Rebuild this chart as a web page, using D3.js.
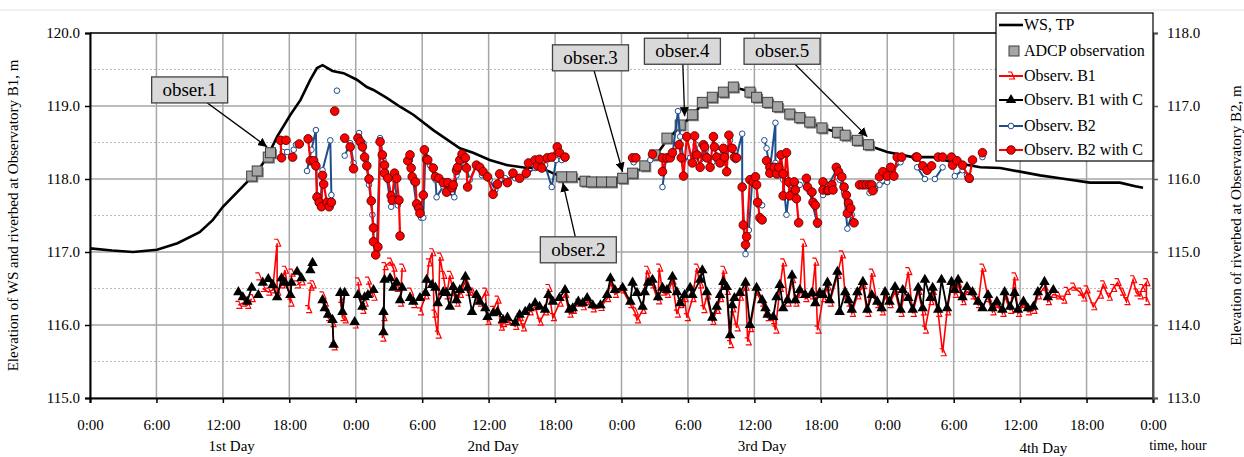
<!DOCTYPE html>
<html>
<head>
<meta charset="utf-8">
<script src="https://d3js.org/d3.v7.min.js"></script>
<style>
body { margin: 0; background: #fff; }
svg text { font-family: "Liberation Serif", "Times New Roman", serif; fill: #000; }
</style>
</head>
<body>
<div id="chart"></div>
<script>
// time in hours from 0:00 of 1st day, elevation in m (left axis)
var hourTicks = [0, 6, 12, 18, 24, 30, 36, 42, 48, 54, 60, 66, 72, 78, 84, 90, 96];
var hourLabels = ["0:00", "6:00", "12:00", "18:00", "0:00", "6:00", "12:00", "18:00", "0:00",
    "6:00", "12:00", "18:00", "0:00", "6:00", "12:00", "18:00", "0:00"];
var leftTicks = [115, 116, 117, 118, 119, 120];
var rightTicks = [113, 114, 115, 116, 117, 118];
var minorTicks = [115.5, 116.5, 117.5, 118.5, 119.5];
var dayNames = ["1st Day", "2nd Day", "3rd Day", "4th Day"];
var dayHours = [12.8, 36.4, 60.7, 86.1];

var wsTP = [[0,117.05],[2,117.02],[3.9,117.0],[6.05,117.03],[7.9,117.12],[9.9,117.27],[11.1,117.44],
    [12.0,117.62],[14.2,117.96],[15.2,118.12],[16.0,118.3],[16.9,118.58],[18.1,118.88],[19.0,119.08],
    [19.9,119.36],[20.5,119.52],[21.0,119.56],[21.9,119.48],[22.9,119.45],[24.1,119.36],[25.0,119.26],
    [25.6,119.22],[26.8,119.11],[28.0,118.99],[29.2,118.88],[31.0,118.67],[33.4,118.42],[34.6,118.36],
    [36.1,118.26],[37.7,118.19],[39.5,118.15],[40.6,118.16],[41.8,118.08],[42.6,118.03],[44.7,117.99],
    [46.2,117.97],[48.1,118.01],[49.0,118.07],[50.1,118.17],[51.0,118.30],[52.1,118.53],[53.3,118.72],
    [54.4,118.87],[55.3,119.03],[56.2,119.12],[57.2,119.19],[58.1,119.26],[59.6,119.20],[61.2,119.06],
    [62.1,118.99],[63.2,118.89],[65.0,118.78],[66.1,118.70],[67.5,118.64],[69.3,118.53],[70.3,118.46],
    [72.0,118.37],[74.3,118.30],[76.1,118.30],[77.9,118.23],[80.4,118.16],[82.2,118.15],[85.8,118.05],
    [87.6,118.01],[90.3,117.95],[93.0,117.95],[94.4,117.90],[95.1,117.88]];

var adcp = [[14.6,118.04],[15.1,118.11],[16.1,118.30],[16.3,118.36],[42.6,118.03],[43.5,118.03],
    [44.7,117.97],[45.3,117.96],[46.2,117.96],[47.1,117.96],[48.1,118.01],[49.0,118.08],[50.1,118.18],
    [51.0,118.33],[52.1,118.56],[53.3,118.74],[54.4,118.88],[55.3,119.05],[56.2,119.12],[57.2,119.19],
    [58.1,119.26],[59.6,119.19],[60.2,119.12],[61.2,119.05],[62.1,118.99],[63.2,118.89],[64.1,118.84],
    [65.0,118.78],[66.1,118.70],[67.5,118.64],[68.2,118.60],[69.3,118.53],[70.3,118.47]];

// null = no reading (gap in line)
var obsB1 = [[13.4,116.27],[13.8,116.30],[14.2,116.27],[14.6,116.36],[14.9,null],[15.2,116.66],[15.4,null],
    [15.6,116.50],[16.1,116.45],[16.5,116.48],[16.9,117.12],[16.9,116.45],[17.3,116.55],[17.6,116.75],
    [18.1,116.30],[18.2,116.71],[18.5,null],[18.7,116.55],[19.1,116.59],[19.5,null],[19.7,116.21],
    [19.9,116.52],[20.1,116.55],[20.5,null],[21.0,116.40],[21.2,116.30],[21.5,116.10],[21.9,116.02],
    [22.0,115.70],[22.3,null],[22.6,116.35],[22.8,116.10],[23.0,116.07],[23.5,null],[23.9,116.00],[24.0,null],
    [24.2,116.59],[24.6,116.20],[24.8,116.30],[24.9,null],[25.1,116.60],[25.6,116.38],[26.0,null],
    [26.4,115.82],[26.5,116.10],[26.6,116.80],[27.1,116.86],[27.4,116.78],[27.7,116.50],[27.9,null],
    [28.0,116.30],[28.2,116.78],[28.5,null],[28.9,116.45],[29.2,116.28],[29.5,null],[29.8,116.18],
    [30.3,116.40],[30.6,116.85],[30.9,116.99],[31.1,116.15],[31.4,115.86],[31.6,116.93],[31.9,116.68],
    [32.2,116.40],[32.5,116.68],[32.8,116.45],[33.1,116.30],[33.4,116.42],[33.9,116.60],[34.1,116.45],
    [34.5,116.45],[34.9,116.35],[35.2,116.30],[35.7,116.45],[35.9,116.05],[36.4,116.20],[36.8,116.34],
    [37.1,115.97],[37.3,116.02],[37.7,116.05],[38.4,115.98],[38.8,116.10],[39.1,115.96],[39.7,116.18],
    [40.2,116.25],[40.6,116.04],[41.1,116.18],[41.4,116.50],[41.8,116.10],[42.4,116.30],[42.9,116.42],
    [43.3,116.15],[43.6,116.20],[44.1,116.30],[44.5,116.25],[44.9,116.32],[45.4,116.22],[46.1,116.24],
    [46.7,116.36],[47.0,116.58],[47.4,116.42],[48.1,116.48],[48.8,116.28],[49.2,116.18],[49.4,116.07],
    [49.9,116.20],[50.3,116.75],[50.8,116.55],[51.3,116.33],[51.4,116.78],[51.7,116.45],[52.1,116.42],
    [52.6,116.60],[53.0,116.15],[53.3,116.28],[53.7,116.36],[53.9,116.10],[54.4,116.36],[54.8,116.78],
    [55.1,116.55],[55.4,116.21],[55.7,116.40],[56.2,116.05],[56.6,116.20],[56.9,116.36],[57.2,116.75],
    [57.5,116.46],[57.8,115.73],[58.0,116.22],[58.4,115.96],[58.7,116.38],[59.2,116.52],[59.4,115.77],
    [59.6,115.95],[60.2,116.45],[60.7,116.30],[61.0,116.18],[61.2,116.10],[61.7,116.06],[61.9,115.93],
    [62.3,116.50],[62.6,116.85],[63.0,116.30],[63.4,116.62],[63.7,116.30],[64.1,116.42],[64.4,117.12],
    [64.6,116.36],[65.2,116.40],[65.5,116.86],[65.7,115.93],[66.2,116.36],[66.6,116.52],[66.8,116.30],
    [67.5,116.68],[67.9,116.96],[68.2,116.40],[68.5,116.30],[68.8,116.16],[69.3,116.40],[69.8,116.54],
    [70.2,116.16],[70.6,116.71],[71.1,116.28],[71.5,116.18],[71.8,116.40],[72.2,116.28],[72.7,116.46],
    [73.2,116.16],[73.9,116.73],[74.3,116.16],[74.8,116.46],[75.2,116.18],[75.4,115.93],[75.9,116.32],
    [76.1,116.46],[76.6,116.16],[77.0,115.62],[77.4,116.18],[77.8,116.54],[78.1,116.42],[78.4,116.56],
    [78.8,116.32],[79.2,116.46],[79.7,116.40],[80.2,116.28],[80.6,116.78],[81.1,116.36],[81.5,116.18],
    [81.9,116.28],[82.4,116.16],[82.6,116.40],[83.1,116.20],[83.5,116.66],[83.8,116.16],[84.3,116.28],
    [84.7,116.18],[85.2,116.20],[85.6,116.40],[86.2,116.52],[86.5,116.32],[87.0,116.42],[87.4,116.40],
    [87.9,116.34],[88.2,116.46],[88.8,116.52],[89.4,116.45],[89.7,116.37],[90.0,116.48],[90.6,116.25],
    [91.2,116.41],[91.5,116.55],[92.0,116.38],[92.4,116.50],[92.8,116.58],[93.2,116.45],[93.6,116.32],
    [94.2,116.62],[94.5,116.44],[94.8,116.40],[95.0,116.50],[95.4,116.58],[95.4,116.32]];

var obsB1C = [[13.4,116.45],[13.8,116.38],[14.2,116.32],[14.6,116.51],[14.9,null],[15.2,116.41],[15.4,null],
    [15.6,116.58],[16.1,116.63],[16.5,116.55],[16.9,116.38],[17.3,116.64],[17.6,116.58],[18.1,116.41],
    [18.2,116.58],[18.5,null],[18.7,116.73],[19.1,116.64],[19.5,null],[19.9,116.75],[20.1,116.85],[20.5,null],
    [21.0,116.34],[21.2,116.23],[21.5,116.14],[21.9,116.07],[22.0,115.73],[22.3,null],[22.6,116.44],
    [22.8,116.18],[23.0,116.44],[23.5,null],[23.9,116.04],[24.0,null],[24.2,116.41],[24.6,116.25],
    [24.8,116.38],[24.9,null],[25.1,116.41],[25.6,116.48],[26.0,null],[26.5,116.18],[26.5,115.90],
    [26.6,116.62],[27.1,116.64],[27.4,116.51],[27.7,116.58],[27.9,null],[28.0,116.34],[28.2,116.51],
    [28.5,null],[28.9,116.37],[29.2,116.32],[29.5,null],[29.8,116.37],[30.3,116.44],[30.4,116.62],
    [30.9,116.55],[31.2,116.51],[31.4,116.30],[31.9,116.45],[32.2,116.44],[32.5,116.25],[32.8,116.52],
    [33.1,116.34],[33.4,116.48],[33.9,116.66],[34.1,116.51],[34.5,116.18],[34.9,116.41],[35.2,116.32],
    [35.7,116.23],[35.9,116.11],[36.4,116.16],[36.8,116.18],[37.3,116.07],[37.7,116.10],[38.4,116.03],
    [38.8,116.14],[39.3,116.18],[39.7,116.23],[40.2,116.30],[40.6,116.25],[41.1,116.21],[41.4,116.41],
    [41.8,116.32],[42.4,116.37],[42.9,116.48],[43.3,116.21],[43.6,116.23],[44.1,116.32],[44.5,116.30],
    [44.9,116.37],[45.4,116.27],[46.1,116.27],[46.7,116.41],[47.0,116.64],[47.4,116.48],[48.1,116.51],
    [48.8,116.32],[49.0,116.58],[49.4,116.44],[49.9,116.25],[50.1,116.45],[50.4,116.58],[50.8,116.62],
    [51.3,116.38],[51.7,116.51],[52.1,116.48],[52.6,116.66],[53.0,116.45],[53.3,116.30],[53.7,116.41],
    [54.2,116.51],[54.4,116.41],[55.1,116.62],[55.3,116.75],[55.7,116.45],[56.2,116.10],[56.6,116.25],
    [56.9,116.41],[57.2,116.59],[57.5,116.52],[57.8,115.86],[58.0,116.27],[58.2,116.37],[58.7,116.44],
    [59.2,116.58],[59.6,116.00],[60.2,116.51],[60.7,116.34],[61.0,116.23],[61.2,116.14],[61.7,116.11],
    [62.0,116.38],[62.3,116.55],[62.6,116.23],[63.0,116.34],[63.4,116.68],[63.7,116.34],[64.1,116.48],
    [64.6,116.41],[65.2,116.44],[65.5,116.30],[65.9,116.44],[66.2,116.41],[66.6,116.58],[66.8,116.34],
    [67.5,116.73],[67.7,116.18],[68.2,116.45],[68.5,116.34],[68.8,116.21],[69.3,116.45],[69.8,116.59],
    [70.2,116.21],[70.6,116.41],[71.1,116.32],[71.5,116.23],[71.8,116.45],[72.2,116.32],[72.7,116.52],
    [73.2,116.21],[73.4,116.48],[73.9,116.37],[74.3,116.21],[74.8,116.51],[75.2,116.23],[75.4,116.62],
    [75.9,116.37],[76.1,116.51],[76.6,116.21],[76.9,116.62],[77.4,116.23],[77.8,116.59],[78.1,116.48],
    [78.4,116.62],[78.8,116.38],[79.2,116.52],[79.7,116.45],[80.2,116.32],[80.6,116.23],[81.1,116.41],
    [81.5,116.23],[81.9,116.32],[82.4,116.21],[82.6,116.45],[83.1,116.25],[83.5,116.44],[83.8,116.21],
    [84.3,116.32],[84.7,116.23],[85.2,116.25],[85.6,116.45],[86.2,116.59],[86.5,116.38],[87.0,116.48]];

var obsB2 = [[17.4,118.37],[17.8,118.37],[18.0,null],[18.4,118.40],[18.6,118.47],[19.0,null],[19.6,118.11],
    [20.0,118.40],[20.4,118.67],[20.5,117.78],[20.8,117.64],[21.0,118.12],[21.7,118.53],[21.8,117.78],
    [22.0,null],[22.3,119.21],[22.6,null],[23.0,118.32],[23.5,118.49],[23.8,118.22],[24.0,null],[24.3,118.63],
    [24.7,118.49],[24.9,118.26],[25.2,117.92],[25.5,117.51],[25.6,117.16],[25.9,117.03],[26.2,118.56],
    [26.5,118.26],[26.7,118.10],[27.2,117.62],[27.5,117.99],[27.8,117.64],[28.3,null],[28.9,118.26],
    [29.2,117.96],[29.5,117.62],[29.9,117.47],[30.1,117.47],[30.3,118.40],[30.7,118.19],[31.2,117.99],
    [31.3,117.75],[31.9,117.90],[32.3,117.82],[32.9,117.75],[33.1,118.05],[33.6,118.26],[33.9,118.19],
    [34.3,117.99],[34.9,118.19],[35.4,118.05],[36.1,117.99],[36.6,117.85],[37.5,118.01],[38.4,118.01],
    [39.3,118.05],[40.2,118.15],[41.1,118.19],[41.7,117.89],[42.1,118.26],[42.6,118.26],[45.0,null],
    [49.1,118.23],[49.8,null],[50.6,118.26],[51.2,null],[51.7,117.89],[52.0,118.26],[52.6,118.33],
    [53.1,118.93],[53.3,118.58],[53.6,118.26],[54.2,118.29],[54.7,118.47],[55.1,118.26],[55.6,118.40],
    [56.2,118.23],[56.7,118.37],[57.3,118.23],[57.8,118.53],[58.3,118.26],[58.9,118.62],[58.9,117.89],
    [59.2,116.97],[59.5,117.30],[59.8,117.96],[60.1,118.01],[60.4,117.64],[60.7,117.64],[60.8,null],
    [60.9,118.53],[61.1,118.42],[61.4,118.12],[61.9,118.77],[61.9,118.22],[62.2,118.05],[62.6,117.99],
    [62.9,117.51],[63.2,117.92],[63.7,117.78],[64.1,117.92],[64.4,null],[64.7,117.96],[65.0,117.82],
    [65.7,117.37],[65.9,null],[66.2,117.78],[66.7,117.92],[67.4,118.12],[67.7,117.99],[68.1,117.82],
    [68.4,117.32],[68.8,117.51],[69.5,null],[70.4,117.81],[70.9,117.86],[71.3,117.92],[72.0,117.96],
    [72.5,118.12],[73.2,118.23],[73.9,null],[74.7,118.16],[75.4,118.00],[75.8,null],[76.3,118.00],
    [77.0,118.16],[77.6,null],[78.1,118.04],[78.8,118.12],[79.2,118.05],[79.5,117.99],[80.0,null],[80.6,118.30]];

var obsB2C = [[17.2,118.53],[17.3,118.29],[17.5,null],[17.7,118.53],[18.0,null],[18.3,118.30],[18.6,null],
    [18.9,118.48],[19.3,null],[19.7,118.55],[19.9,118.25],[20.2,118.25],[20.4,118.18],[20.5,117.75],
    [20.7,117.68],[20.9,117.62],[21.0,118.05],[21.1,117.93],[21.4,117.68],[21.6,117.62],[21.8,117.68],
    [22.0,null],[22.1,118.93],[22.5,null],[23.0,118.56],[23.5,118.44],[23.8,118.14],[24.0,null],
    [24.2,118.56],[24.4,118.51],[24.6,118.44],[24.8,118.30],[25.0,118.18],[25.2,118.00],[25.4,117.70],
    [25.6,117.33],[25.6,117.14],[25.8,116.96],[26.0,117.07],[26.2,118.51],[26.4,118.33],[26.6,118.19],
    [26.6,118.08],[26.9,118.01],[27.2,117.77],[27.3,117.71],[27.5,118.08],[27.7,118.01],[27.9,117.71],
    [28.0,117.22],[28.4,null],[28.7,118.25],[28.9,118.33],[29.0,118.15],[29.1,118.03],[29.4,117.96],
    [29.5,117.66],[29.7,117.60],[29.8,117.53],[30.1,117.78],[30.2,118.40],[30.4,118.27],[30.5,118.26],
    [31.0,118.15],[31.2,118.03],[31.5,118.01],[31.9,117.95],[32.2,117.82],[32.3,117.95],[32.7,117.88],
    [32.8,117.92],[33.1,118.12],[33.2,118.16],[33.4,118.26],[33.6,118.34],[33.9,118.29],[34.0,118.15],
    [34.1,117.89],[34.9,118.19],[35.2,118.16],[35.5,118.10],[35.9,118.03],[36.4,117.79],[36.8,117.93],
    [37.0,118.07],[37.7,117.95],[38.2,118.08],[38.8,118.01],[39.4,118.08],[39.6,118.22],[40.2,118.26],
    [40.4,118.18],[40.6,118.27],[40.8,118.15],[41.3,118.29],[41.7,118.30],[42.2,118.44],[42.4,118.36],
    [42.9,118.30],[45.0,null],[49.0,118.29],[49.3,118.29],[50.0,null],[50.8,118.34],[51.2,null],
    [51.7,118.29],[51.7,118.10],[52.1,118.29],[52.4,118.29],[52.6,118.36],[53.2,118.47],[53.4,118.29],
    [53.6,118.04],[53.9,118.58],[54.4,118.22],[54.6,118.59],[54.8,118.33],[55.1,118.16],[55.4,118.47],
    [55.5,118.44],[55.7,118.29],[56.0,118.16],[56.3,118.58],[56.4,118.44],[56.6,118.30],[56.9,118.22],
    [57.2,118.42],[57.3,118.30],[57.5,118.10],[57.7,118.60],[58.0,118.42],[58.2,118.30],[58.4,118.29],
    [58.6,null],[58.9,117.89],[59.0,117.37],[59.2,117.10],[59.3,117.21],[59.6,117.99],[59.9,117.96],
    [60.1,118.03],[60.2,117.92],[60.3,117.68],[60.5,117.47],[60.7,117.44],[60.9,null],[61.1,118.25],
    [61.4,118.16],[61.4,118.08],[61.8,118.16],[62.0,118.07],[62.2,118.16],[62.4,118.33],[62.6,118.07],
    [62.6,117.77],[62.9,118.36],[63.1,117.96],[63.2,117.77],[63.6,117.96],[63.7,117.85],[63.8,117.73],
    [64.0,117.40],[64.4,null],[64.7,118.01],[64.8,117.89],[65.2,117.82],[65.3,117.68],[65.5,117.64],
    [65.7,117.40],[65.9,null],[66.2,117.96],[66.2,117.85],[66.6,117.84],[66.7,117.85],[67.0,117.92],
    [67.1,117.85],[67.4,118.16],[67.6,118.10],[67.9,118.03],[68.1,117.89],[68.3,117.78],[68.4,117.53],
    [68.5,117.67],[68.7,117.60],[69.0,117.40],[69.2,null],[69.5,117.92],[69.8,117.92],[70.1,117.92],
    [70.4,117.92],[70.6,117.92],[70.7,117.84],[71.0,null],[71.3,118.03],[71.6,118.10],[72.0,118.04],
    [72.3,118.16],[72.6,118.04],[72.9,118.30],[73.3,118.30],[74.0,null],[74.6,118.30],[74.7,118.30],
    [75.2,118.18],[75.6,118.12],[76.0,118.18],[76.3,null],[76.6,118.30],[77.0,118.30],[77.4,null],
    [77.8,118.30],[77.9,118.19],[78.3,118.25],[78.8,118.19],[79.4,118.01],[79.7,118.26],[80.1,null],
    [80.6,118.36]];

var obsNames = ["obser.1", "obser.2", "obser.3", "obser.4", "obser.5"];
var obsLabelAt = [[9.0,119.22], [44.1,117.03], [45.2,119.66], [53.5,119.75], [62.5,119.75]];
var obsPointAt = [[16.0,118.44], [42.7,117.95], [48.1,118.10], [53.7,118.86], [70.2,118.58]];

var legendNames = ["WS, TP", "ADCP observation", "Observ. B1", "Observ. B1 with C", "Observ. B2", "Observ. B2 with C"];

var margin = {top: 33, right: 91, bottom: 59, left: 90};
var width = 1244 - margin.left - margin.right,
    height = 457 - margin.top - margin.bottom;

var svg = d3.select("#chart").append("svg")
    .attr("width", 1244)
    .attr("height", 457);

svg.append("line")
    .attr("x1", 0).attr("x2", 1244).attr("y1", 10).attr("y2", 10)
    .style("stroke", "#ececec").style("stroke-width", 1.5);

var g = svg.append("g")
    .attr("transform", "translate(" + margin.left + "," + margin.top + ")");

var x = d3.scaleLinear().domain([0, 96]).range([0, width]);
var y = d3.scaleLinear().domain([115, 120]).range([height, 0]);
var y2 = d3.scaleLinear().domain([113, 118]).range([height, 0]);

// grid
g.selectAll(".minor").data(minorTicks).enter().append("line")
    .attr("x1", 0).attr("x2", width)
    .attr("y1", d => y(d)).attr("y2", d => y(d))
    .style("stroke", "#bdbdbd").style("stroke-width", 1).style("stroke-dasharray", "2,2");

g.selectAll(".hgrid").data(leftTicks).enter().append("line")
    .attr("x1", 0).attr("x2", width)
    .attr("y1", d => y(d)).attr("y2", d => y(d))
    .style("stroke", "#a6a6a6").style("stroke-width", 1.5);

g.selectAll(".vgrid").data(hourTicks).enter().append("line")
    .attr("x1", d => x(d)).attr("x2", d => x(d))
    .attr("y1", 0).attr("y2", height)
    .style("stroke", "#a6a6a6").style("stroke-width", 1.5);

// frame
g.append("line").attr("x1", 0).attr("x2", width).attr("y1", 0).attr("y2", 0)
    .style("stroke", "#3a3a3a").style("stroke-width", 2);
g.append("line").attr("x1", width).attr("x2", width).attr("y1", 0).attr("y2", height)
    .style("stroke", "#555").style("stroke-width", 2);

// axes
var xAxis = d3.axisBottom(x).tickValues(hourTicks).tickSize(5).tickPadding(16)
    .tickFormat((d, i) => hourLabels[i]);
var yAxis = d3.axisLeft(y).tickValues(leftTicks).tickSize(5).tickPadding(5)
    .tickFormat(d3.format(".1f"));
var yAxis2 = d3.axisRight(y2).tickValues(rightTicks).tickSize(5).tickPadding(9)
    .tickFormat(d3.format(".1f"));

function styleAxis(sel, col) {
    sel.select(".domain").style("stroke", col).style("stroke-width", 2);
    sel.selectAll(".tick line").style("stroke", col).style("stroke-width", 1.5);
    sel.selectAll(".tick text").style("font-size", "15px")
        .style("font-family", "'Liberation Serif', serif").attr("fill", "#000");
}

g.append("g").attr("class", "x-axis").attr("transform", "translate(0," + height + ")")
    .call(xAxis).call(s => styleAxis(s, "#000"));
g.append("g").attr("class", "y-axis").call(yAxis).call(s => styleAxis(s, "#000"));
g.append("g").attr("class", "y-axis2").attr("transform", "translate(" + width + ",0)")
    .call(yAxis2).call(s => styleAxis(s, "#555"));

// axis titles
g.selectAll(".day").data(dayNames).enter().append("text")
    .attr("x", (d, i) => x(dayHours[i]))
    .attr("y", (d, i) => height + (i === 3 ? 55 : 53))
    .style("text-anchor", "middle").style("font-size", "15px")
    .text(d => d);

g.append("text")
    .attr("x", width + 25).attr("y", height + 52)
    .style("text-anchor", "middle").style("font-size", "14px")
    .text("time, hour");

g.append("text")
    .attr("transform", "translate(-72," + (height / 2) + ") rotate(-90)")
    .style("text-anchor", "middle").style("font-size", "15px")
    .text("Elevation of WS and riverbed at Observatory B1, m");

g.append("text")
    .attr("transform", "translate(" + (width + 88) + "," + (height / 2) + ") rotate(-90)")
    .style("text-anchor", "middle").style("font-size", "15px")
    .text("Elevation of riverbed at Observatory B2, m");

// series
var line = d3.line()
    .defined(d => d[1] !== null)
    .x(d => x(d[0]))
    .y(d => y(d[1]));

var b1Marker = "M-3,-4 H0.5 L3.5,3 H-2";

function valid(data) { return data.filter(d => d[1] !== null); }

// WS, TP
g.append("path").datum(wsTP).attr("d", line)
    .style("fill", "none").style("stroke", "#000").style("stroke-width", 2.6);

// ADCP
var sq = 10;
g.selectAll(".adcp-shadow").data(adcp).enter().append("rect")
    .attr("x", d => x(d[0]) - sq / 2 + 1.5).attr("y", d => y(d[1]) - sq / 2 + 1.5)
    .attr("width", sq).attr("height", sq)
    .style("fill", "#7a7a7a");
g.selectAll(".adcp").data(adcp).enter().append("rect")
    .attr("x", d => x(d[0]) - sq / 2).attr("y", d => y(d[1]) - sq / 2)
    .attr("width", sq).attr("height", sq)
    .style("fill", "#a5a5a5").style("stroke", "#3f3f3f").style("stroke-width", 1);

// Observ. B1
g.append("path").datum(obsB1).attr("d", line)
    .style("fill", "none").style("stroke", "#ff0000").style("stroke-width", 1.6);
g.selectAll(".b1").data(valid(obsB1)).enter().append("path")
    .attr("transform", d => "translate(" + x(d[0]) + "," + y(d[1]) + ")")
    .attr("d", b1Marker)
    .style("fill", "none").style("stroke", "#ff0000").style("stroke-width", 1.2);

// Observ. B1 with C
g.append("path").datum(obsB1C).attr("d", line)
    .style("fill", "none").style("stroke", "#000").style("stroke-width", 1.8);
g.selectAll(".b1c").data(valid(obsB1C)).enter().append("path")
    .attr("transform", d => "translate(" + x(d[0]) + "," + y(d[1]) + ")")
    .attr("d", d3.symbol(d3.symbolTriangle, 48))
    .style("fill", "#000");

// Observ. B2
g.append("path").datum(obsB2).attr("d", line)
    .style("fill", "none").style("stroke", "#1f4e8c").style("stroke-width", 2);
g.selectAll(".b2").data(valid(obsB2)).enter().append("circle")
    .attr("cx", d => x(d[0])).attr("cy", d => y(d[1])).attr("r", 2.8)
    .style("fill", "#fff").style("stroke", "#1f4e8c").style("stroke-width", 1);

// Observ. B2 with C
g.append("path").datum(obsB2C).attr("d", line)
    .style("fill", "none").style("stroke", "#ff0000").style("stroke-width", 2.2);
g.selectAll(".b2c").data(valid(obsB2C)).enter().append("circle")
    .attr("cx", d => x(d[0])).attr("cy", d => y(d[1])).attr("r", 4.3)
    .style("fill", "#ff0000").style("stroke", "#5a0000").style("stroke-width", 0.9);

// annotations
svg.append("defs").append("marker")
    .attr("id", "arrow").attr("viewBox", "0 0 10 10")
    .attr("refX", 10).attr("refY", 5)
    .attr("markerWidth", 7).attr("markerHeight", 7)
    .attr("orient", "auto")
    .append("path").attr("d", "M0,0 L10,5 L0,10 z").style("fill", "#000");

var ann = g.selectAll(".ann").data(obsNames).enter().append("g").attr("class", "ann");

ann.append("line")
    .attr("x1", (d, i) => x(obsLabelAt[i][0]))
    .attr("y1", (d, i) => y(obsLabelAt[i][1]))
    .attr("x2", (d, i) => x(obsPointAt[i][0]))
    .attr("y2", (d, i) => y(obsPointAt[i][1]))
    .attr("marker-end", "url(#arrow)")
    .style("stroke", "#000").style("stroke-width", 1.3);

ann.append("rect")
    .attr("x", (d, i) => x(obsLabelAt[i][0]) - 38)
    .attr("y", (d, i) => y(obsLabelAt[i][1]) - 13)
    .attr("width", 76).attr("height", 26)
    .style("fill", "#d9d9d9").style("stroke", "#404040").style("stroke-width", 1.3);

ann.append("text")
    .attr("x", (d, i) => x(obsLabelAt[i][0]))
    .attr("y", (d, i) => y(obsLabelAt[i][1]) + 6)
    .style("text-anchor", "middle").style("font-size", "19px")
    .text(d => d);

// legend
var legend = svg.append("g").attr("transform", "translate(996,13)");
legend.append("rect").attr("width", 157).attr("height", 148)
    .style("fill", "#fff").style("stroke", "#000").style("stroke-width", 1.2);

var rowY = [12, 38, 63, 87, 113, 137];
var items = legend.selectAll(".item").data(legendNames).enter().append("g")
    .attr("transform", (d, i) => "translate(0," + rowY[i] + ")");

items.append("text").attr("x", 28).attr("y", 5)
    .style("font-size", "16px").text(d => d);

items.each(function(d, i) {
    var s = d3.select(this);
    var colors = ["#000", null, "#ff0000", "#000", "#1f4e8c", "#ff0000"];
    if (i !== 1) {
        s.append("line").attr("x1", 3).attr("x2", 27).attr("y1", 0).attr("y2", 0)
            .style("stroke", colors[i]).style("stroke-width", i === 0 ? 2.6 : 2);
    }
    if (i === 1) {
        s.append("rect").attr("x", 13).attr("y", -5).attr("width", 10).attr("height", 10)
            .style("fill", "#a5a5a5").style("stroke", "#3f3f3f");
    } else if (i === 2) {
        s.append("path").attr("transform", "translate(15,0)").attr("d", b1Marker)
            .style("fill", "none").style("stroke", "#ff0000").style("stroke-width", 1.2);
    } else if (i === 3) {
        s.append("path").attr("transform", "translate(15,0)")
            .attr("d", d3.symbol(d3.symbolTriangle, 48)).style("fill", "#000");
    } else if (i === 4) {
        s.append("circle").attr("cx", 15).attr("r", 2.8)
            .style("fill", "#fff").style("stroke", "#1f4e8c");
    } else if (i === 5) {
        s.append("circle").attr("cx", 15).attr("r", 4.3)
            .style("fill", "#ff0000").style("stroke", "#5a0000").style("stroke-width", 0.9);
    }
});
</script>
</body>
</html>
